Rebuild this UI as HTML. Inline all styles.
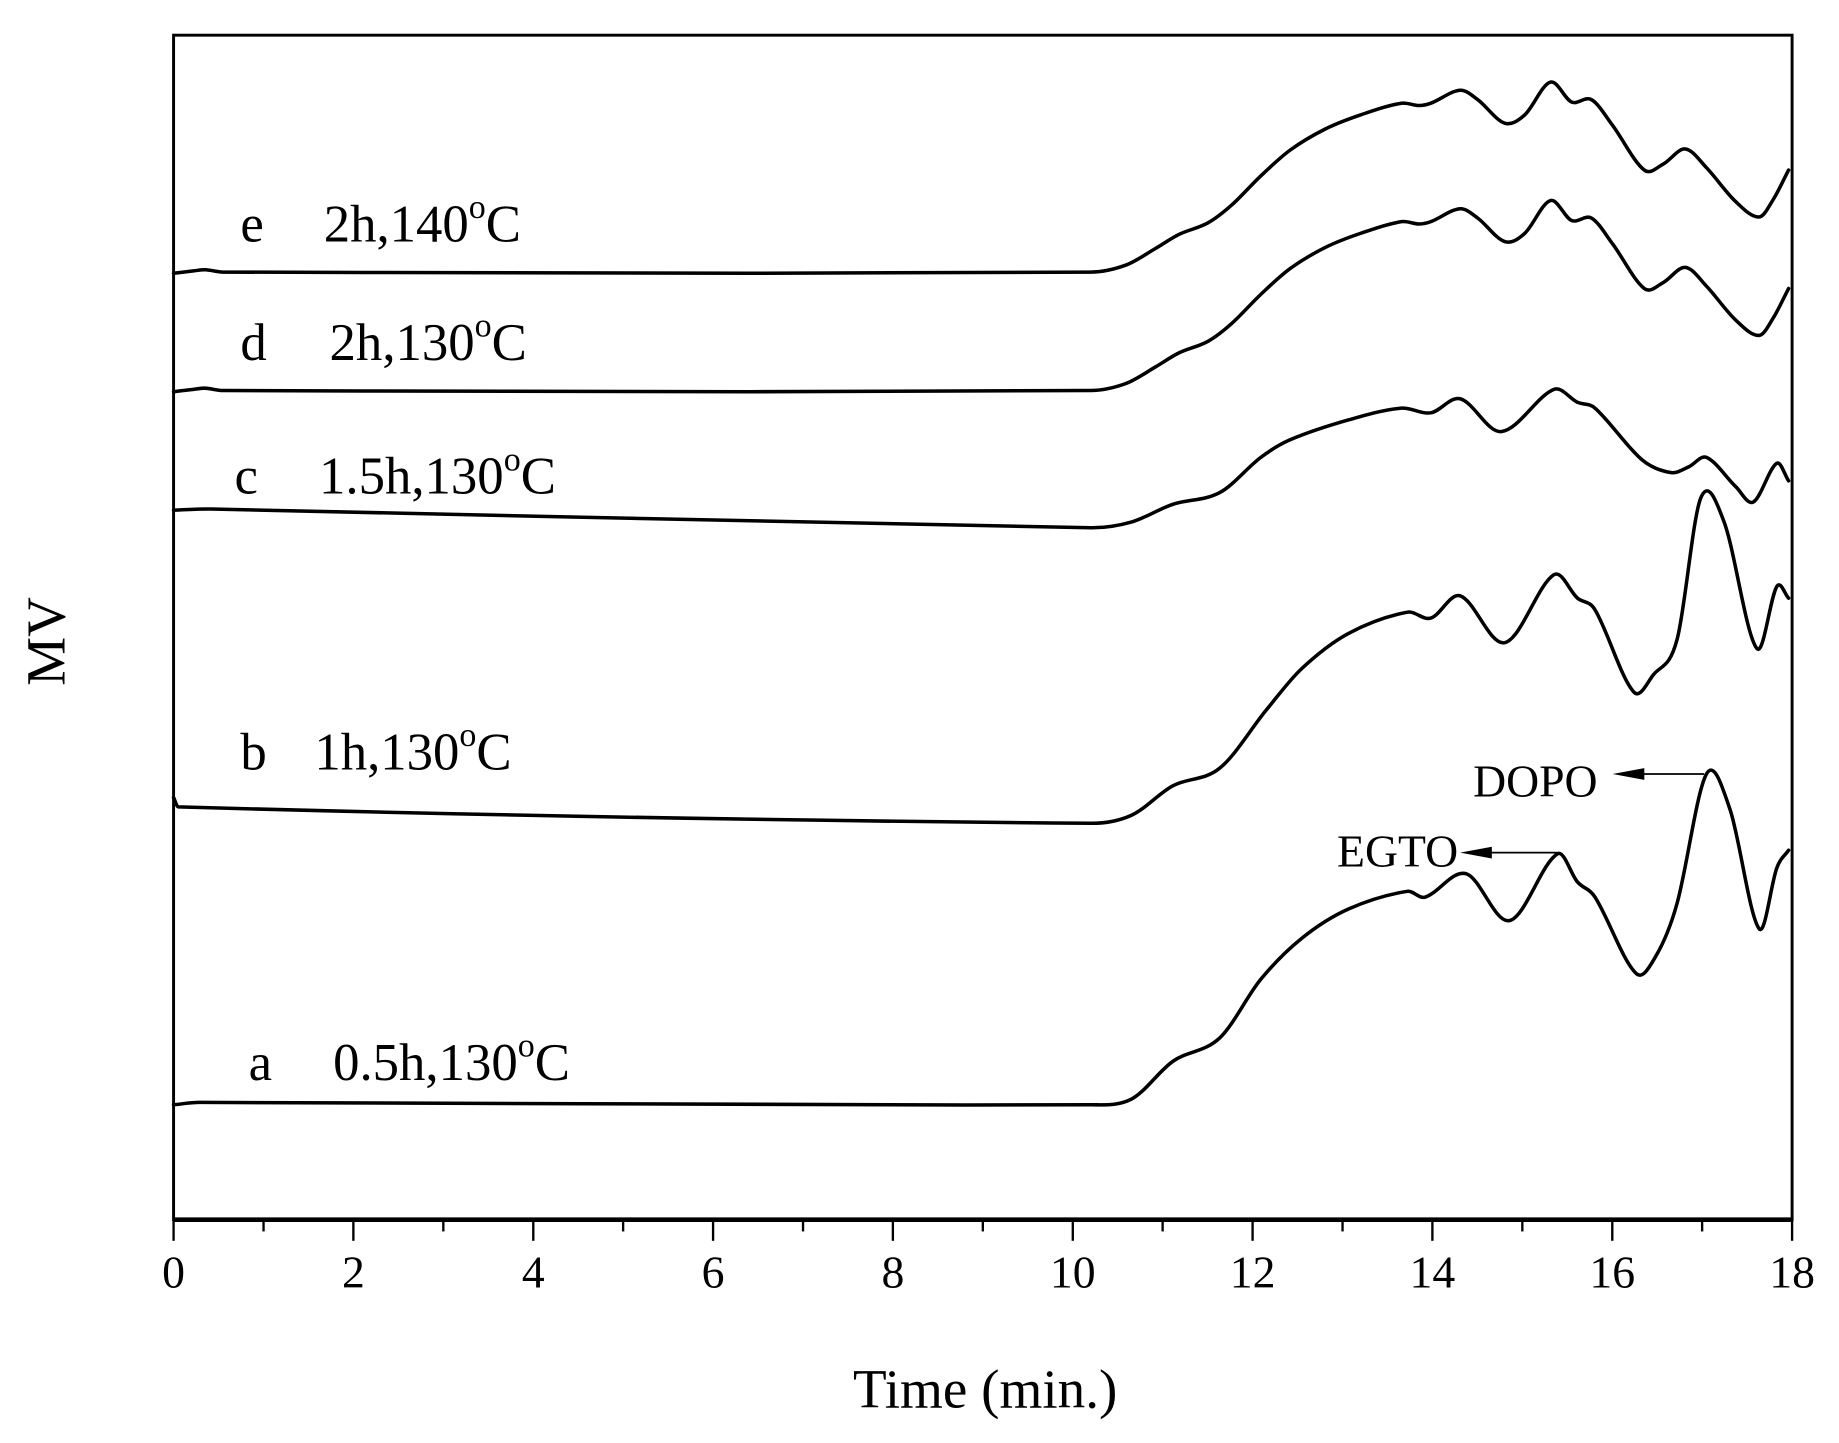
<!DOCTYPE html>
<html><head><meta charset="utf-8"><style>html,body{margin:0;padding:0;background:#fff}svg{display:block}</style></head>
<body>
<svg id="s" width="1839" height="1443" viewBox="0 0 1568 1230.4" preserveAspectRatio="none" xmlns="http://www.w3.org/2000/svg" font-family="Liberation Serif, serif">
<rect x="148" y="30" width="1380" height="1010" fill="none" stroke="#000" stroke-width="2.5"/>
<line x1="148" y1="1040" x2="1528" y2="1040" stroke="#000" stroke-width="4"/>
<g stroke="#000" stroke-width="2">
<line x1="148" y1="1040" x2="148" y2="1058"/><line x1="224.7" y1="1040" x2="224.7" y2="1050"/>
<line x1="301.3" y1="1040" x2="301.3" y2="1058"/><line x1="378" y1="1040" x2="378" y2="1050"/>
<line x1="454.7" y1="1040" x2="454.7" y2="1058"/><line x1="531.3" y1="1040" x2="531.3" y2="1050"/>
<line x1="608" y1="1040" x2="608" y2="1058"/><line x1="684.7" y1="1040" x2="684.7" y2="1050"/>
<line x1="761.3" y1="1040" x2="761.3" y2="1058"/><line x1="838" y1="1040" x2="838" y2="1050"/>
<line x1="914.7" y1="1040" x2="914.7" y2="1058"/><line x1="991.3" y1="1040" x2="991.3" y2="1050"/>
<line x1="1068" y1="1040" x2="1068" y2="1058"/><line x1="1144.7" y1="1040" x2="1144.7" y2="1050"/>
<line x1="1221.3" y1="1040" x2="1221.3" y2="1058"/><line x1="1298" y1="1040" x2="1298" y2="1050"/>
<line x1="1374.7" y1="1040" x2="1374.7" y2="1058"/><line x1="1451.3" y1="1040" x2="1451.3" y2="1050"/>
<line x1="1528" y1="1040" x2="1528" y2="1058"/>
</g>
<g font-size="39" text-anchor="middle">
<text x="148" y="1098">0</text><text x="301.3" y="1098">2</text><text x="454.7" y="1098">4</text>
<text x="608" y="1098">6</text><text x="761.3" y="1098">8</text><text x="914.7" y="1098">10</text>
<text x="1068" y="1098">12</text><text x="1221.3" y="1098">14</text><text x="1374.7" y="1098">16</text>
<text x="1528" y="1098">18</text>
</g>
<text x="840" y="1200" font-size="47" text-anchor="middle">Time (min.)</text>
<text x="0" y="0" font-size="47" text-anchor="middle" transform="translate(55,547) rotate(-90)">MV</text>
<g id="curves" fill="none" stroke="#000" stroke-width="3" stroke-linejoin="round" stroke-linecap="round"></g>
<g stroke="#000" stroke-width="1.5"><line x1="1400" y1="660" x2="1453" y2="660"/><line x1="1270" y1="727" x2="1328" y2="727"/></g>
<polygon points="1375,660 1402,655 1402,665" fill="#000"/>
<polygon points="1245,727 1272,722 1272,732" fill="#000"/>
<g font-size="39"><text x="1256" y="679">DOPO</text><text x="1140" y="739">EGTO</text></g>
<g font-size="45">
<text x="205" y="206">e</text><text x="276" y="206">2h,140<tspan dy="-20" font-size="29">o</tspan><tspan dy="20">C</tspan></text>
<text x="205" y="307">d</text><text x="281" y="307">2h,130<tspan dy="-20" font-size="29">o</tspan><tspan dy="20">C</tspan></text>
<text x="200" y="421">c</text><text x="272" y="421">1.5h,130<tspan dy="-20" font-size="29">o</tspan><tspan dy="20">C</tspan></text>
<text x="205" y="656">b</text><text x="268" y="656">1h,130<tspan dy="-20" font-size="29">o</tspan><tspan dy="20">C</tspan></text>
<text x="212" y="921">a</text><text x="284" y="921">0.5h,130<tspan dy="-20" font-size="29">o</tspan><tspan dy="20">C</tspan></text>
</g>
</svg>
<script>
var data=[
"148,233 165,231 175,230 190,232 930,232 960,226 985,212 1005,200 1030,190 1050,175 1075,150 1100,128 1130,110 1160,98 1195,88 1210,90 1220,88 1245,77 1260,85 1283,105 1300,98 1322,70 1340,87 1357,85 1375,107 1402,145 1418,140 1437,127 1455,143 1480,172 1500,185 1512,170 1525,145",
"148,334 165,332 175,331 190,333 930,333 960,327 985,313 1005,301 1030,291 1050,276 1075,251 1100,229 1130,211 1160,199 1195,189 1210,191 1220,189 1245,178 1260,186 1283,206 1300,199 1322,171 1340,188 1357,186 1375,208 1402,246 1418,241 1437,228 1455,244 1480,273 1500,286 1512,271 1525,246",
"148,435 180,434 930,450 965,445 1000,430 1040,420 1075,390 1100,375 1150,358 1195,348 1220,352 1245,340 1280,368 1325,332 1345,343 1360,348 1400,392 1425,403 1440,398 1455,390 1480,415 1495,428 1515,395 1525,410",
"148,680 152,688 930,702 965,695 1000,670 1040,655 1080,605 1110,570 1150,540 1200,522 1220,527 1245,508 1283,548 1325,490 1345,510 1360,520 1393,590 1410,575 1430,545 1450,425 1470,445 1498,553 1515,500 1525,510",
"148,942 170,940 930,942 965,937 1000,905 1040,885 1075,835 1110,800 1150,775 1200,760 1215,765 1250,745 1287,785 1328,728 1345,752 1360,765 1395,830 1412,815 1430,770 1455,660 1475,690 1500,792 1515,740 1525,725"];
var g=document.getElementById('curves');
data.forEach(function(s){
var p=s.split(' ').map(function(q){return q.split(',').map(Number)});
var n=p.length,m=[];
for(var i=0;i<n;i++){
var a=p[Math.max(0,i-1)],b=p[Math.min(n-1,i+1)];
m.push((b[1]-a[1])/(b[0]-a[0]));}
var d='M'+p[0][0]+','+p[0][1];
for(var i=0;i<n-1;i++){
var p1=p[i],p2=p[i+1],h=(p2[0]-p1[0])/3;
d+=' C'+(p1[0]+h)+','+(p1[1]+m[i]*h)+' '+(p2[0]-h)+','+(p2[1]-m[i+1]*h)+' '+p2[0]+','+p2[1];}
var e=document.createElementNS('http://www.w3.org/2000/svg','path');
e.setAttribute('d',d);g.appendChild(e);});
</script>
</body></html>
